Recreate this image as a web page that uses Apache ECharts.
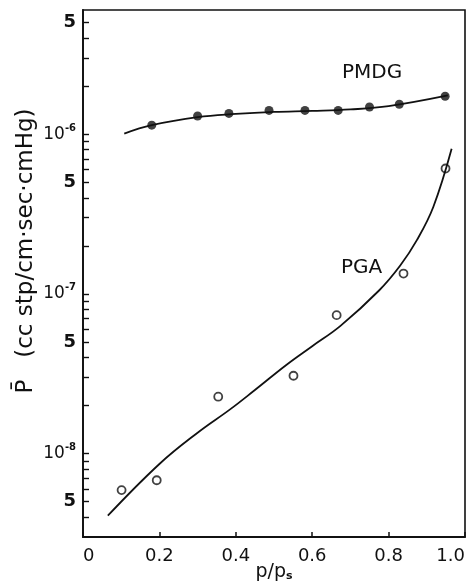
<!DOCTYPE html>
<html>
<head>
<meta charset="utf-8">
<script src="https://cdn.jsdelivr.net/npm/echarts@6/dist/echarts.min.js"></script>
<style>
  html, body { margin: 0; padding: 0; background: #fff; }
  #chart { width: 475px; height: 583px; }
</style>
</head>
<body>
<div id="chart"></div>
<script>
// measured points, p/ps vs permeability
var pmdgX = [0.18, 0.30, 0.382, 0.487, 0.581, 0.668, 0.75, 0.828, 0.948]
var pmdgY = [1.14e-6, 1.30e-6, 1.35e-6, 1.41e-6, 1.41e-6, 1.41e-6, 1.48e-6, 1.54e-6, 1.73e-6]
var pgaX = [0.101, 0.193, 0.354, 0.551, 0.664, 0.839, 0.949]
var pgaY = [5.9e-9, 6.8e-9, 2.27e-8, 3.07e-8, 7.36e-8, 1.34e-7, 6.1e-7]

// hand drawn fit curves
var pmdgFitX = [0.108, 0.18, 0.30, 0.40, 0.50, 0.60, 0.70, 0.80, 0.955]
var pmdgFitY = [1.01e-6, 1.14e-6, 1.28e-6, 1.34e-6, 1.38e-6, 1.40e-6, 1.43e-6, 1.50e-6, 1.75e-6]
var pgaFitX = [0.065, 0.20, 0.30, 0.385, 0.45, 0.533, 0.60, 0.674, 0.775, 0.83, 0.874, 0.917, 0.965]
var pgaFitY = [4.08e-9, 8.6e-9, 1.35e-8, 1.89e-8, 2.5e-8, 3.6e-8, 4.7e-8, 6.3e-8, 1.05e-7, 1.5e-7, 2.17e-7, 3.5e-7, 8.1e-7]

// axis ticks
var xTicks = [0, 0.2, 0.4, 0.6, 0.8, 1.0]
var yLabelValues = [5e-9, 1e-8, 5e-8, 1e-7, 5e-7, 1e-6, 5e-6]
var yTickValues = [
  4e-9, 5e-9, 6e-9, 7e-9, 8e-9, 9e-9,
  1e-8, 2e-8, 3e-8, 4e-8, 5e-8, 6e-8, 7e-8, 8e-8, 9e-8,
  1e-7, 2e-7, 3e-7, 4e-7, 5e-7, 6e-7, 7e-7, 8e-7, 9e-7,
  1e-6, 2e-6, 3e-6, 4e-6, 5e-6
]

function pairs (xs, ys) {
  return xs.map(function (x, i) { return [x, ys[i]] })
}

function yLabel (v) {
  var e = Math.floor(Math.log10(v) + 1e-9)
  var m = Math.round(v / Math.pow(10, e))
  if (m === 1) return '{d|10}{sup|' + e + '}'
  return '{n|' + m + '}'
}

var font = 'DejaVu Sans'
var chart = echarts.init(document.getElementById('chart'))

chart.setOption({
  animation: false,
  backgroundColor: '#fff',
  textStyle: { fontFamily: font, color: '#111' },
  grid: {
    left: 83, right: 10, top: 10, bottom: 46,
    outerBoundsMode: 'none',
    containLabel: false,
    show: true, borderColor: '#111', borderWidth: 1.6
  },
  xAxis: {
    type: 'value',
    min: 0,
    max: 1,
    interval: 0.2,
    name: 'p/p{s|s}',
    nameLocation: 'middle',
    nameMoveOverlap: false,
    nameGap: 26,
    nameTextStyle: {
      fontFamily: font, fontSize: 19, color: '#111',
      rich: { s: { fontFamily: font, fontSize: 11, fontWeight: 'bold', color: '#111', padding: [8, 0, 0, 0] } }
    },
    splitLine: { show: false },
    axisLine: { lineStyle: { color: '#111', width: 1.8 } },
    axisTick: { inside: true, length: 5, lineStyle: { color: '#111', width: 1.5 }, customValues: xTicks },
    axisLabel: {
      fontFamily: font, fontSize: 18, color: '#111', margin: 10,
      alignMinLabel: 'left',
      alignMaxLabel: 'right',
      customValues: xTicks,
      formatter: function (v) { return v === 0 ? '0' : v.toFixed(1) }
    }
  },
  yAxis: {
    type: 'log',
    min: 3e-9,
    max: 6e-6,
    name: 'P\u0304   (cc stp/cm\u00b7sec\u00b7cmHg)',
    nameLocation: 'middle',
    nameMoveOverlap: false,
    nameGap: 45,
    nameTextStyle: { fontFamily: font, fontSize: 23, color: '#111', padding: [0, 0, 0, 45] },
    splitLine: { show: false },
    minorTick: { show: false },
    axisLine: { lineStyle: { color: '#111', width: 1.8 } },
    axisTick: { inside: true, length: 6, lineStyle: { color: '#111', width: 1.4 }, customValues: yTickValues },
    axisLabel: {
      margin: 7,
      customValues: yLabelValues,
      formatter: yLabel,
      rich: {
        n: { fontFamily: font, fontSize: 18, fontWeight: 'bold', color: '#111' },
        d: { fontFamily: font, fontSize: 17, color: '#111' },
        sup: { fontFamily: font, fontSize: 10, fontWeight: 'bold', color: '#111', padding: [0, 0, 12, 0] }
      }
    }
  },
  graphic: [
    { type: 'text', left: 342, top: 63, style: { text: 'PMDG', font: '20px "DejaVu Sans"', fill: '#111' } },
    { type: 'text', left: 341, top: 258, style: { text: 'PGA', font: '20px "DejaVu Sans"', fill: '#111' } }
  ],
  series: [
    {
      name: 'PMDG fit',
      type: 'line',
      smooth: 0.4,
      showSymbol: false,
      data: pairs(pmdgFitX, pmdgFitY),
      lineStyle: { color: '#111', width: 1.8 }
    },
    {
      name: 'PMDG',
      type: 'scatter',
      symbol: 'circle',
      symbolSize: 9,
      data: pairs(pmdgX, pmdgY),
      itemStyle: { color: '#111' }
    },
    {
      name: 'PGA fit',
      type: 'line',
      smooth: 0.4,
      showSymbol: false,
      data: pairs(pgaFitX, pgaFitY),
      lineStyle: { color: '#111', width: 1.8 }
    },
    {
      name: 'PGA',
      type: 'scatter',
      symbol: 'circle',
      symbolSize: 8,
      data: pairs(pgaX, pgaY),
      itemStyle: { color: '#fff', borderColor: '#111', borderWidth: 1.8 }
    }
  ]
})
</script>
</body>
</html>
